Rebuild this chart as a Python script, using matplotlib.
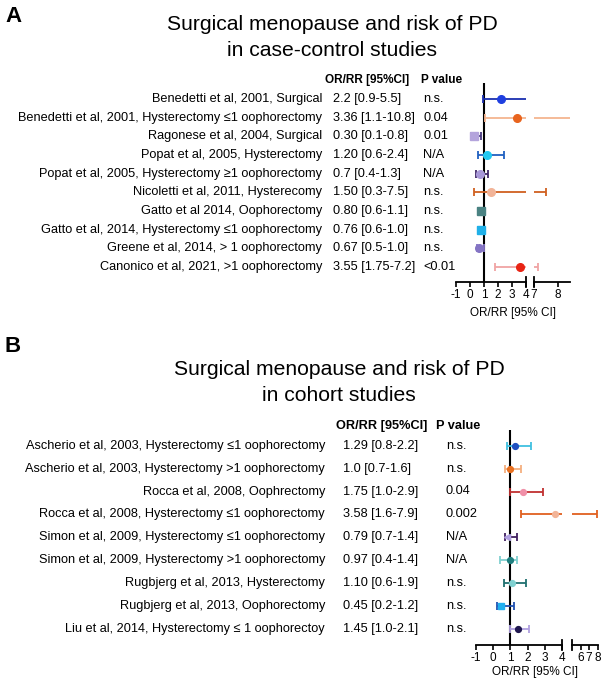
import numpy as np
import matplotlib
matplotlib.use('Agg')
import matplotlib.pyplot as plt
from matplotlib import transforms

plt.rcParams['font.family'] = ['Liberation Sans', 'DejaVu Sans']

# ---- panel A data (case-control studies)
a_labels = ["Benedetti et al, 2001, Surgical",
            "Benedetti et al, 2001, Hysterectomy \u22641 oophorectomy",
            "Ragonese et al, 2004, Surgical",
            "Popat et al, 2005, Hysterectomy",
            "Popat et al, 2005, Hysterectomy \u22651 oophorectomy",
            "Nicoletti et al, 2011, Hysterecomy",
            "Gatto et al 2014, Oophorectomy",
            "Gatto et al, 2014, Hysterectomy \u22641 oophorectomy",
            "Greene et al, 2014, > 1 oophorectomy",
            "Canonico et al, 2021, >1 oophorectomy"]
a_or = [2.2, 3.36, 0.30, 1.20, 0.7, 1.50, 0.80, 0.76, 0.67, 3.55]
a_lo = [0.9, 1.1, 0.1, 0.6, 0.4, 0.3, 0.6, 0.6, 0.5, 1.75]
a_hi = [5.5, 10.8, 0.8, 2.4, 1.3, 7.5, 1.1, 1.0, 1.0, 7.2]
a_ci = ["2.2 [0.9-5.5]", "3.36 [1.1-10.8]", "0.30 [0.1-0.8]", "1.20 [0.6-2.4]",
        "0.7 [0.4-1.3]", "1.50 [0.3-7.5]", "0.80 [0.6-1.1]", "0.76 [0.6-1.0]",
        "0.67 [0.5-1.0]", "3.55 [1.75-7.2]"]
a_p = ["n.s.", "0.04", "0.01", "N/A", "N/A", "n.s.", "n.s.", "n.s.", "n.s.", "<0.01"]

# ---- panel B data (cohort studies)
b_labels = ["Ascherio et al, 2003, Hysterectomy \u22641 oophorectomy",
            "Ascherio et al, 2003, Hysterectomy >1 oophorectomy",
            "Rocca et al, 2008, Oophrectomy",
            "Rocca et al, 2008, Hysterectomy \u22641 oophorectomy",
            "Simon et al, 2009, Hysterectomy \u22641 oophorectomy",
            "Simon et al, 2009, Hysterectomy >1 oophorectomy",
            "Rugbjerg et al, 2013, Hysterectomy",
            "Rugbjerg et al, 2013, Oophorectomy",
            "Liu et al, 2014, Hysterectomy \u2264 1 oophorectoy"]
b_or = [1.29, 1.0, 1.75, 3.58, 0.79, 0.97, 1.10, 0.45, 1.45]
b_lo = [0.8, 0.7, 1.0, 1.6, 0.7, 0.4, 0.6, 0.2, 1.0]
b_hi = [2.2, 1.6, 2.9, 7.9, 1.4, 1.4, 1.9, 1.2, 2.1]
b_ci = ["1.29 [0.8-2.2]", "1.0 [0.7-1.6]", "1.75 [1.0-2.9]", "3.58 [1.6-7.9]",
        "0.79 [0.7-1.4]", "0.97 [0.4-1.4]", "1.10 [0.6-1.9]", "0.45 [0.2-1.2]",
        "1.45 [1.0-2.1]"]
b_p = ["n.s.", "n.s.", "0.04", "0.002", "N/A", "N/A", "n.s.", "n.s.", "n.s."]

# styles
a_mcol = ['#1f3fe0', '#e8641e', '#b4a4dc', '#22c8f0', '#a898d8',
          '#f2b498', '#4a8282', '#20b0e8', '#8474c4', '#e82414']
a_ecol = ['#1a2fb0', '#f5b590', '#4a3a80', '#2060c0', '#402868',
          '#d06020', '#4a8282', '#20b0e8', '#8474c4', '#f0a4a4']
a_mk = ['o', 'o', 's', 'o', 'o', 'o', 's', 's', 'o', 'o']
b_mcol = ['#2050c0', '#e87020', '#f090a8', '#f2b498', '#b0a0e0',
          '#208080', '#80d0d0', '#20b0f0', '#201850']
b_ecol = ['#40c0e0', '#f5b080', '#c03030', '#e06020', '#402060',
          '#80d0d0', '#207070', '#2050b0', '#b0a0e0']
b_mk = ['o', 'o', 'o', 'o', '<', 'o', 'o', 's', 'o']

W, H = 606, 680
fig = plt.figure(figsize=(W / 100, H / 100), dpi=100)


def fx(x):
    return x / W


def fy(y):
    return 1 - y / H


def forest(segs, row0, step, ytop, ybot, vals, lo, hi, mcol, ecol, mk, ms, cap):
    ylim = ((ybot - row0) / step, (ytop - row0) / step)
    rows = np.arange(len(vals))
    vals = np.array(vals)
    err = [vals - np.array(lo), np.array(hi) - vals]
    axes = []
    for k, (x0, x1, xmin, xmax, ticks) in enumerate(segs):
        ax = fig.add_axes([fx(x0), fy(ybot), (x1 - x0) / W, (ybot - ytop) / H])
        ax.set_xlim(xmin, xmax)
        ax.set_ylim(*ylim)
        ax.patch.set_alpha(0)
        for s in ['top', 'left', 'right']:
            ax.spines[s].set_visible(False)
        ax.spines['bottom'].set_linewidth(1.3)
        ax.set_yticks([])
        ax.set_xticks(ticks)
        ax.set_xticklabels([str(t) for t in ticks])
        ax.tick_params(axis='x', direction='out', length=3.6, width=1.2,
                       labelsize=8.5, pad=1.5)
        for i in rows:
            ax.errorbar(vals[i], i, xerr=[[err[0][i]], [err[1][i]]], fmt=mk[i],
                        color=mcol[i], ecolor=ecol[i], ms=ms, elinewidth=1.3,
                        capsize=cap, capthick=1.3, zorder=3)
        # broken-axis end marks
        hpx = ybot - ytop
        xe = 1 if k == 0 else 0
        ax.plot([xe, xe], [-5 / hpx, 5 / hpx], transform=ax.transAxes,
                color='k', lw=1.3, clip_on=False)
        axes.append(ax)
    axes[0].axvline(1, color='k', lw=1.5, zorder=1)
    return axes


def table(ax, x_lab, x_ci, x_p, labels, ci, p, fs):
    tr = transforms.blended_transform_factory(fig.transFigure, ax.transData)
    for i in range(len(labels)):
        ax.text(fx(x_lab), i, labels[i], transform=tr, ha='right', va='center', fontsize=fs)
        ax.text(fx(x_ci), i, ci[i], transform=tr, ha='left', va='center', fontsize=fs)
        ax.text(fx(x_p), i, p[i], transform=tr, ha='left', va='center', fontsize=fs)


# ---------------- panel A
axA = forest([(456, 526, -1, 4, [-1, 0, 1, 2, 3, 4]),
              (533.5, 570, 7, 8.5, [7, 8])],
             99, 18.67, 83, 282, a_or, a_lo, a_hi, a_mcol, a_ecol, a_mk, 5.5, 3)
table(axA[0], 322, 333, 423, a_labels, a_ci, a_p, 9.2)
fig.text(fx(513), fy(313), 'OR/RR [95% CI]', ha='center', va='center', fontsize=8.5)
fig.text(fx(325), fy(80), 'OR/RR [95%CI]', ha='left', va='center', fontsize=8.5,
         fontweight='bold')
fig.text(fx(421), fy(80), 'P value', ha='left', va='center', fontsize=8.5,
         fontweight='bold')
fig.text(fx(332), fy(25), 'Surgical menopause and risk of PD', ha='center',
         va='center', fontsize=15.2)
fig.text(fx(332), fy(50), 'in case-control studies', ha='center',
         va='center', fontsize=15.2)
fig.text(fx(5), fy(17), 'A', ha='left', va='center', fontsize=16, fontweight='bold')

# ---------------- panel B
axB = forest([(476, 562, -1, 4, [-1, 0, 1, 2, 3, 4]),
              (572, 597.5, 5, 8, [6, 7, 8])],
             445.7, 22.9, 430, 645, b_or, b_lo, b_hi, b_mcol, b_ecol, b_mk, 4.2, 3)
table(axB[0], 325, 343, 446, b_labels, b_ci, b_p, 9.2)
fig.text(fx(535), fy(672), 'OR/RR [95% CI]', ha='center', va='center', fontsize=8.5)
fig.text(fx(336), fy(426), 'OR/RR [95%CI]', ha='left', va='center', fontsize=9.2,
         fontweight='bold')
fig.text(fx(436), fy(426), 'P value', ha='left', va='center', fontsize=9.2,
         fontweight='bold')
fig.text(fx(339), fy(370), 'Surgical menopause and risk of PD', ha='center',
         va='center', fontsize=15.2)
fig.text(fx(339), fy(395), 'in cohort studies', ha='center',
         va='center', fontsize=15.2)
fig.text(fx(4), fy(347), 'B', ha='left', va='center', fontsize=16, fontweight='bold')

fig.savefig('out.png', dpi=100)
